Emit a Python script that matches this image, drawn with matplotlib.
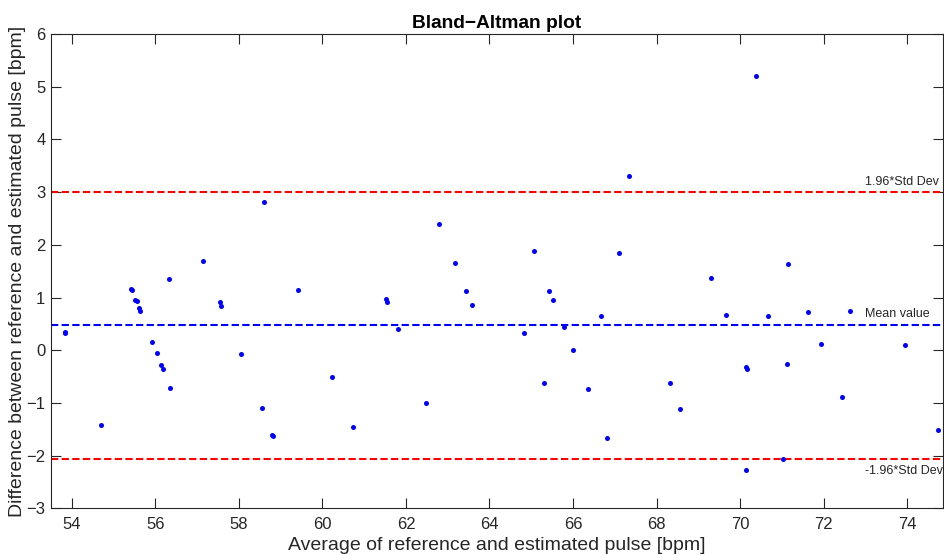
import matplotlib
matplotlib.use("Agg")
import matplotlib.pyplot as plt

plt.rcParams['font.family'] = ['Liberation Sans', 'DejaVu Sans']

avg_pulse = [53.83, 53.84, 54.70, 55.41, 55.43, 55.52, 55.55, 55.60, 55.63, 55.92,
             56.03, 56.13, 56.18, 56.35, 56.33, 57.15, 57.54, 57.58, 58.04, 58.59,
             58.55, 58.80, 58.82, 59.42, 60.24, 60.72, 61.51, 61.54, 61.80, 62.49,
             62.79, 63.17, 63.44, 63.57, 64.83, 65.06, 65.31, 65.43, 65.52, 65.78,
             66.00, 66.36, 66.68, 66.82, 67.09, 67.34, 70.39, 69.31, 69.67, 70.66,
             71.63, 72.62, 71.14, 71.94, 73.94, 68.31, 68.55, 70.14, 70.17, 71.13,
             72.43, 74.75, 71.02, 70.13]
diff_pulse = [0.35, 0.33, -1.41, 1.16, 1.14, 0.95, 0.93, 0.81, 0.74, 0.15,
              -0.06, -0.28, -0.36, -0.72, 1.36, 1.69, 0.91, 0.84, -0.07, 2.81,
              -1.10, -1.61, -1.63, 1.14, -0.51, -1.45, 0.97, 0.92, 0.40, -1.00,
              2.40, 1.65, 1.13, 0.86, 0.33, 1.88, -0.62, 1.13, 0.95, 0.44,
              0.00, -0.74, 0.64, -1.66, 1.84, 3.31, 5.21, 1.37, 0.66, 0.65,
              0.73, 0.74, 1.64, 0.11, 0.09, -0.62, -1.11, -0.32, -0.35, -0.27,
              -0.88, -1.51, -2.06, -2.27]

mean_diff = 0.478
upper_limit = 3.008
lower_limit = -2.058
line_labels = ["1.96*Std Dev", "Mean value", "-1.96*Std Dev"]
x_ticks = [54, 56, 58, 60, 62, 64, 66, 68, 70, 72, 74]
y_ticks = [-3, -2, -1, 0, 1, 2, 3, 4, 5, 6]

fig = plt.figure(figsize=(9.44, 5.55), dpi=100)
ax = fig.add_axes([0.054, 0.0841, 0.945, 0.8546])

ax.plot(avg_pulse, diff_pulse, 'o', color='#0000ff', markersize=3.6,
        markeredgewidth=0, zorder=3)

ax.axhline(upper_limit, color='#ff0000', lw=1.5, ls=(0, (3.5, 1.6)))
ax.axhline(mean_diff, color='#0000ff', lw=1.5, ls=(0, (3.5, 1.6)))
ax.axhline(lower_limit, color='#ff0000', lw=1.5, ls=(0, (3.5, 1.6)))

txt_kw = dict(fontsize=9, color='#262626', ha='left', va='center', clip_on=False)
ax.text(73.0, upper_limit + 0.18, line_labels[0], **txt_kw)
ax.text(73.0, mean_diff + 0.21, line_labels[1], **txt_kw)
ax.text(73.0, lower_limit - 0.24, line_labels[2], **txt_kw)

ax.set_xlim(53.5, 74.86)
ax.set_ylim(-3, 6)
ax.set_xticks(x_ticks)
ax.set_yticks(y_ticks)

ax.tick_params(direction='in', length=7, width=0.8, top=True, right=True,
               colors='#262626', labelsize=12)
ax.tick_params(axis='x', pad=6)
ax.tick_params(axis='y', pad=4)
for s in ax.spines.values():
    s.set_color('#262626')
    s.set_linewidth(0.8)

ax.set_title("Bland\u2212Altman plot", fontsize=13.8, fontweight='bold', pad=4, color='black')
ax.set_xlabel("Average of reference and estimated pulse [bpm]", fontsize=14,
              color='#262626', labelpad=4)
ax.set_ylabel("Difference between reference and estimated pulse [bpm]", fontsize=14,
              color='#262626', labelpad=0.5)

fig.savefig("out.png", dpi=100)
